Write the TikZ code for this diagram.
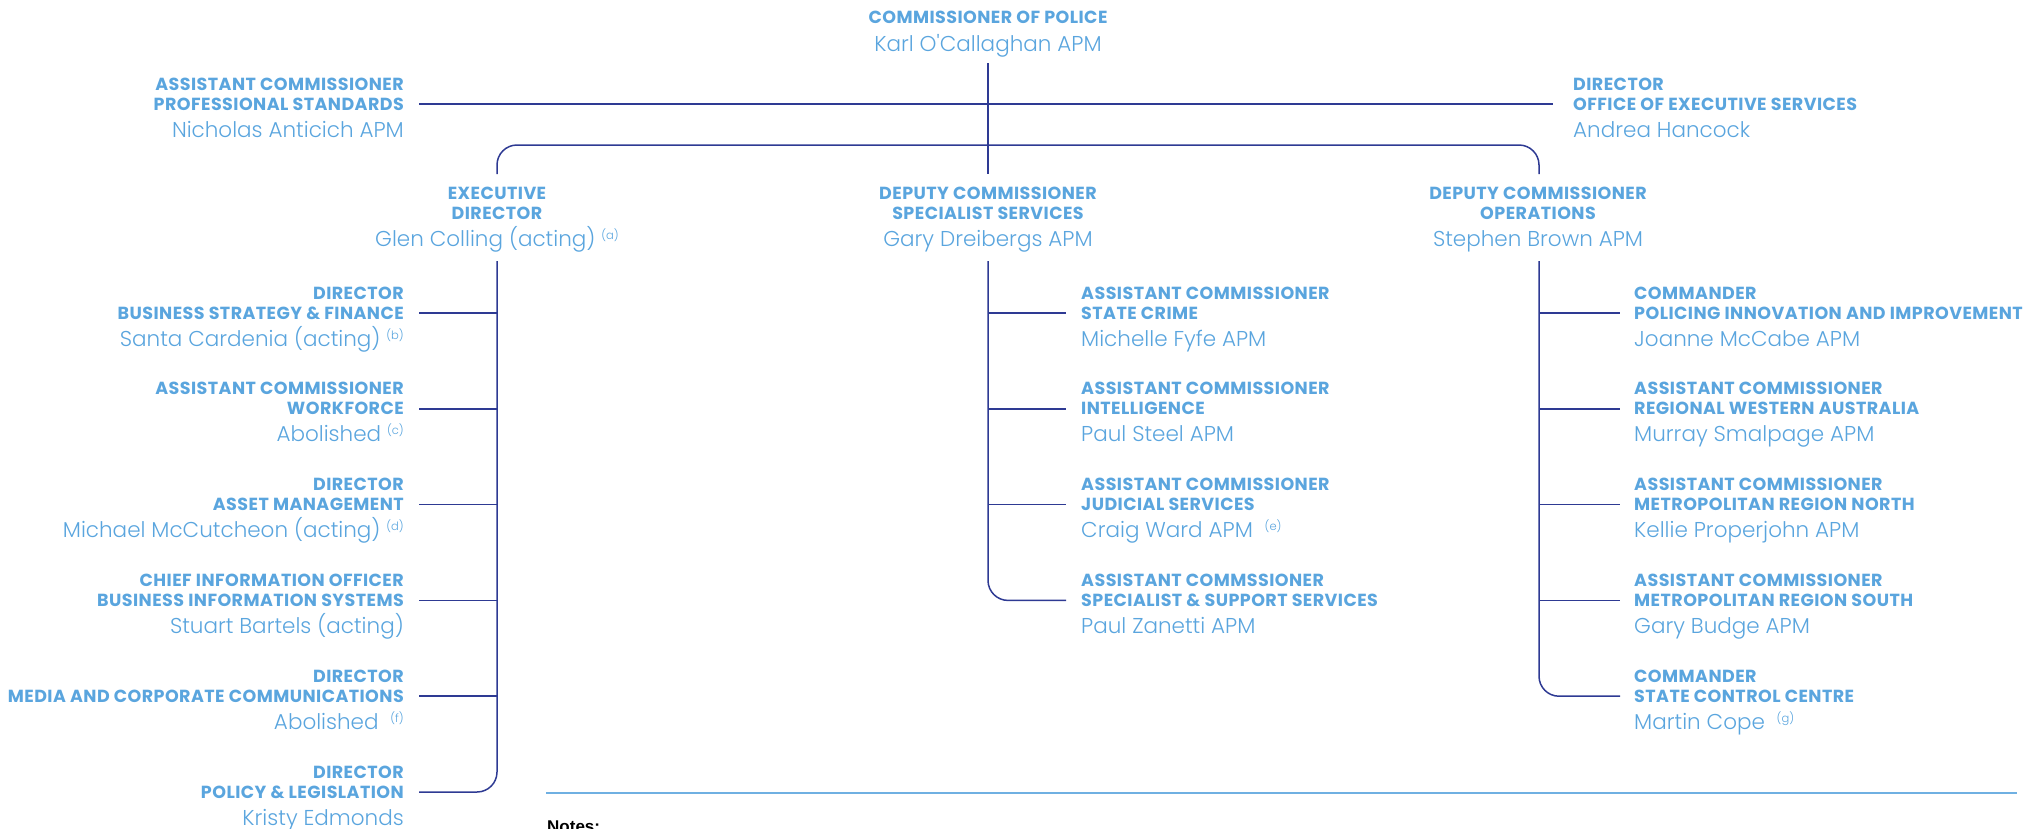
\documentclass[tikz,border=0pt]{standalone}
\usepackage{fontspec}
\setmainfont{Poppins}
\newfontfamily\ttlfont[LetterSpace=2.5]{Poppins}
\IfFontExistsTF{Poppins Light}{\newfontfamily\nmfont{Poppins Light}}{\newfontfamily\nmfont{Poppins}}
\newfontfamily\notesfont{Liberation Sans}
\definecolor{txt}{HTML}{5AA5DE}
\definecolor{navy}{HTML}{2E3A93}
\definecolor{rulecol}{HTML}{6FB0E2}
\tikzset{
  ttl/.style={inner sep=0pt, text=txt, font=\ttlfont\fontsize{17.5}{17.5}\selectfont\bfseries},
  nm/.style={inner sep=0pt, text=txt, font=\nmfont\fontsize{21.5}{21.5}\selectfont},
  conn/.style={draw=navy, line width=1.5pt},
}
\newcommand\fnote[1]{\raisebox{7pt}{\fontsize{11.5}{11.5}\selectfont(#1)}}
\newcommand\entity[7]{%
  \node[ttl,anchor=#4] (#1a) at (#2,#3) {#5};
  \node[ttl,anchor=#4] (#1b) at (#2,#3+20) {#6};
  \node[nm,anchor=#4] (#1n) at (#2,#3+47) {#7};}
\begin{document}
\begin{tikzpicture}[x=1pt,y=-1pt]
\useasboundingbox (0,0) rectangle (2044,828);
% top
\node[ttl,anchor=base] (comA) at (988,23) {COMMISSIONER OF POLICE};
\node[nm,anchor=base] (comN) at (988,51) {Karl O'Callaghan APM};
\entity{ps}{404}{90}{base east}{ASSISTANT COMMISSIONER}{PROFESSIONAL STANDARDS}{Nicholas Anticich APM}
\entity{oes}{1573}{90}{base west}{DIRECTOR}{OFFICE OF EXECUTIVE SERVICES}{Andrea Hancock}
% level 2
\entity{ed}{497}{199}{base}{EXECUTIVE}{DIRECTOR}{Glen Colling (acting) \fnote{a}}
\entity{ss}{988}{199}{base}{DEPUTY COMMISSIONER}{SPECIALIST SERVICES}{Gary Dreibergs APM}
\entity{op}{1538}{199}{base}{DEPUTY COMMISSIONER}{OPERATIONS}{Stephen Brown APM}
% left branch
\entity{bsf}{404}{299}{base east}{DIRECTOR}{BUSINESS STRATEGY \& FINANCE}{Santa Cardenia (acting) \fnote{b}}
\entity{wf}{404}{394.8}{base east}{ASSISTANT COMMISSIONER}{WORKFORCE}{Abolished \fnote{c}}
\entity{am}{404}{490.6}{base east}{DIRECTOR}{ASSET MANAGEMENT}{Michael McCutcheon (acting) \fnote{d}}
\entity{bis}{404}{586.4}{base east}{CHIEF INFORMATION OFFICER}{BUSINESS INFORMATION SYSTEMS}{Stuart Bartels (acting)}
\entity{mcc}{404}{682.2}{base east}{DIRECTOR}{MEDIA AND CORPORATE COMMUNICATIONS}{Abolished\ \ \fnote{f}\hspace{6pt}}
\entity{pl}{404}{778}{base east}{DIRECTOR}{POLICY \& LEGISLATION}{Kristy Edmonds}
% middle branch
\entity{sc}{1081}{299}{base west}{ASSISTANT COMMISSIONER}{STATE CRIME}{Michelle Fyfe APM}
\entity{int}{1081}{394.8}{base west}{ASSISTANT COMMISSIONER}{INTELLIGENCE}{Paul Steel APM}
\entity{js}{1081}{490.6}{base west}{ASSISTANT COMMISSIONER}{JUDICIAL SERVICES}{Craig Ward APM\ \ \fnote{e}}
\entity{sss}{1081}{586.4}{base west}{ASSISTANT COMMSSIONER}{SPECIALIST \& SUPPORT SERVICES}{Paul Zanetti APM}
% right branch
\entity{pii}{1634}{299}{base west}{COMMANDER}{POLICING INNOVATION AND IMPROVEMENT}{Joanne McCabe APM}
\entity{rwa}{1634}{394.8}{base west}{ASSISTANT COMMISSIONER}{REGIONAL WESTERN AUSTRALIA}{Murray Smalpage APM}
\entity{mrn}{1634}{490.6}{base west}{ASSISTANT COMMISSIONER}{METROPOLITAN REGION NORTH}{Kellie Properjohn APM}
\entity{mrs}{1634}{586.4}{base west}{ASSISTANT COMMISSIONER}{METROPOLITAN REGION SOUTH}{Gary Budge APM}
\entity{scc}{1634}{682.2}{base west}{COMMANDER}{STATE CONTROL CENTRE}{Martin Cope\ \ \fnote{g}}
% coordinates
\coordinate (cTop) at (988,63);
\coordinate (cBot) at (988,174);
\coordinate (hL) at (419,104);
\coordinate (hR) at (1553,104);
\coordinate (bL) at (497,174);
\coordinate (bR) at (1539,174);
\coordinate (sL) at (497,261);
\coordinate (sM) at (988,261);
\coordinate (sR) at (1539,261);
% connectors
\draw[conn] (cTop) -- (cBot);
\draw[conn] (hL) -- (hR);
\draw[conn,rounded corners=20pt] (bL) -- (497,145) -- (1539,145) -- (bR);
% left spine
\draw[conn,rounded corners=20pt] (sL) -- (497,792) -- (419,792);
\foreach \r in {313,408.8,504.6,600.4,696.2}{\draw[conn] (419,\r) -- (497,\r);}
% middle spine
\draw[conn,rounded corners=20pt] (sM) -- (988,600.4) -- (1066,600.4);
\foreach \r in {313,408.8,504.6}{\draw[conn] (988,\r) -- (1066,\r);}
% right spine
\draw[conn,rounded corners=20pt] (sR) -- (1539,696.2) -- (1620,696.2);
\foreach \r in {313,408.8,504.6,600.4}{\draw[conn] (1539,\r) -- (1620,\r);}
% notes
\draw[draw=rulecol,line width=2pt] (546,793) -- (2017,793);
\node[inner sep=0pt,anchor=base west,font=\notesfont\fontsize{17}{17}\selectfont\bfseries] (notes) at (547,832) {Notes:};
\end{tikzpicture}
\end{document}
